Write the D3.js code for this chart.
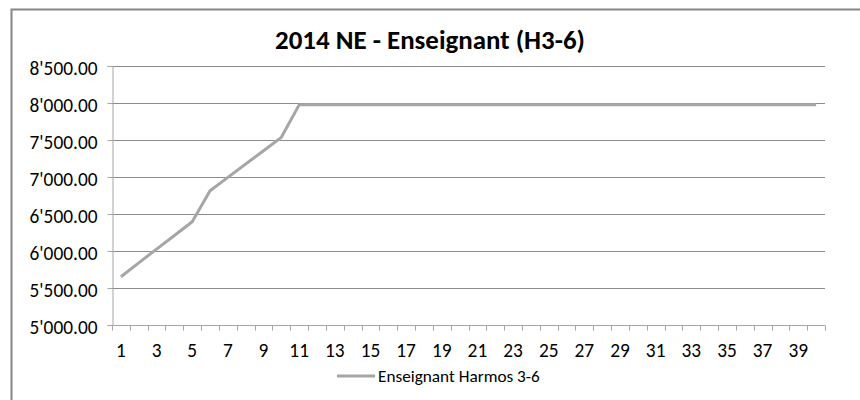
<!DOCTYPE html>
<html>
<head>
<meta charset="utf-8">
<script src="https://cdn.jsdelivr.net/npm/d3@7"></script>
<style>
body{margin:0;background:#fff;}
text{font-family:Carlito,Lato,sans-serif;}
</style>
</head>
<body>
<svg id="chart" width="860" height="400"></svg>
<script>
// data
var title = "2014 NE - Enseignant (H3-6)";
var seriesName = "Enseignant Harmos 3-6";
var years = d3.range(1, 41);
var salary = [5652, 5840, 6025, 6210, 6396, 6815, 6995, 7175, 7355, 7536,
	7975, 7975, 7975, 7975, 7975, 7975, 7975, 7975, 7975, 7975,
	7975, 7975, 7975, 7975, 7975, 7975, 7975, 7975, 7975, 7975,
	7975, 7975, 7975, 7975, 7975, 7975, 7975, 7975, 7975, 7975];
var yTicks = [5000, 5500, 6000, 6500, 7000, 7500, 8000, 8500];

var left = 112, right = 825, top_ = 66, bottom = 325;
var svg = d3.select('#chart');

// pick a font size so that a text is as wide as in the picture
function fitSize(str, target, weight){
	var t = svg.append('text').attr('font-size', 20).attr('font-weight', weight || 'normal').text(str);
	var w = t.node().getComputedTextLength();
	t.remove();
	return 20 * target / w;
}
var tickFont = fitSize("8'500.00", 68);
var legendFont = fitSize(seriesName, 162);
var titleFont = fitSize(title, 310, 'bold');

// outer frame (runs off the right and bottom of the picture)
svg.append('rect')
	.attr('x', 11.5).attr('y', 9.5)
	.attr('width', 900).attr('height', 420)
	.attr('fill', 'none').attr('stroke', '#868686').attr('stroke-width', 2);

var x = d3.scaleBand().domain(years).range([left, right]);
var y = d3.scaleLinear().domain([5000, 8500]).range([bottom, top_]);

var fmt = function(v){ return d3.format(',.2f')(v).replace(/,/g, "'"); };

// gridlines
svg.append('g').selectAll('line')
	.data(yTicks.slice(1))
	.join('line')
		.attr('x1', left).attr('x2', right)
		.attr('y1', d => Math.round(y(d)) + 0.5)
		.attr('y2', d => Math.round(y(d)) + 0.5)
		.attr('stroke', '#8c8c8c');

// y axis
var yAxis = svg.append('g')
	.attr('transform', `translate(${left + 0.5},0)`)
	.call(d3.axisLeft(y).tickValues(yTicks).tickFormat(fmt).tickSize(5).tickPadding(10));
yAxis.attr('font-family', null);
yAxis.select('.domain').attr('stroke', '#a6a6a6');
yAxis.selectAll('.tick line').attr('stroke', '#a6a6a6');
yAxis.selectAll('text')
	.attr('font-size', tickFont)
	.attr('fill', '#000')
	.attr('y', 2)
	.attr('dy', '0.35em');

// x axis: ticks between categories
var xAxisG = svg.append('g').attr('transform', `translate(0,${bottom + 0.5})`);
xAxisG.append('line')
	.attr('x1', left).attr('x2', right)
	.attr('stroke', '#a6a6a6');
xAxisG.selectAll('line.tk')
	.data(years.concat([41]))
	.join('line')
		.attr('class', 'tk')
		.attr('x1', (d, i) => Math.round(left + i * x.bandwidth()) + 0.5)
		.attr('x2', (d, i) => Math.round(left + i * x.bandwidth()) + 0.5)
		.attr('y1', 0).attr('y2', 5)
		.attr('stroke', '#a6a6a6');
xAxisG.selectAll('text')
	.data(years.filter(d => d % 2 == 1))
	.join('text')
		.attr('x', d => x(d) + x.bandwidth() / 2)
		.attr('y', 31)
		.attr('text-anchor', 'middle')
		.attr('font-size', tickFont)
		.text(d => d);

// series line
var line = d3.line()
	.x((d, i) => x(years[i]) + x.bandwidth() / 2)
	.y(d => y(d));
svg.append('path')
	.datum(salary)
	.attr('d', line)
	.attr('fill', 'none')
	.attr('stroke', '#a6a6a6')
	.attr('stroke-width', 3)
	.attr('stroke-linejoin', 'round');

// title
svg.append('text')
	.attr('x', 430).attr('y', 49)
	.attr('text-anchor', 'middle')
	.attr('font-size', titleFont)
	.attr('font-weight', 'bold')
	.text(title);

// legend
var lg = svg.append('g').attr('transform', 'translate(337,376)');
lg.append('line')
	.attr('x1', 0).attr('x2', 38).attr('y1', 0).attr('y2', 0)
	.attr('stroke', '#a6a6a6').attr('stroke-width', 3);
lg.append('text')
	.attr('x', 41).attr('y', 6)
	.attr('font-size', legendFont)
	.text(seriesName);
</script>
</body>
</html>
